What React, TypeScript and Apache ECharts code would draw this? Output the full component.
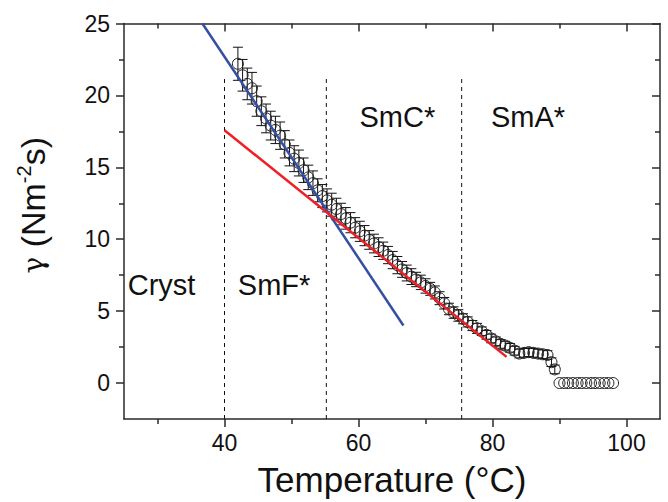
import React, { useEffect, useRef } from "react";
import * as echarts from "echarts";

// Measured data: temperature (°C), rotational viscosity γ (N m^-2 s) and its error
const temps = [
  42.0, 42.7, 43.4, 44.1, 44.8, 45.5, 46.2, 46.9, 47.6, 48.3, 49.0, 49.7,
  50.4, 51.1, 51.8, 52.5, 53.2, 53.9, 54.6, 55.3, 56.0, 56.7, 57.4, 58.1,
  58.8, 59.5, 60.2, 60.9, 61.6, 62.3, 63.0, 63.7, 64.4, 65.1, 65.8, 66.5,
  67.2, 67.9, 68.6, 69.3, 70.0, 70.7, 71.4, 72.1, 72.8, 73.5, 74.2, 74.9,
  75.6, 76.3, 77.0, 77.7, 78.4, 79.1, 79.8, 80.5, 81.2, 81.9, 82.6, 83.3,
  84.0, 84.7, 85.4, 86.1, 86.8, 87.5, 88.2, 88.8, 89.3,
];
const gamma = [
  22.2, 21.4, 20.8, 20.5, 19.6, 18.9, 18.4, 17.9, 17.6, 17.2, 16.6, 16.0,
  15.6, 15.3, 14.8, 14.3, 13.9, 13.4, 13.0, 12.7, 12.4, 12.1, 11.75, 11.45,
  11.15, 10.8, 10.55, 10.25, 9.95, 9.7, 9.45, 9.2, 8.9, 8.55, 8.2, 7.9,
  7.65, 7.4, 7.2, 7.0, 6.75, 6.55, 6.3, 5.9, 5.55, 5.15, 4.9, 4.7,
  4.47, 4.25, 4.0, 3.8, 3.6, 3.35, 3.1, 2.9, 2.72, 2.6, 2.45, 2.25,
  2.05, 2.1, 2.15, 2.1, 2.05, 2.0, 1.95, 1.45, 0.95,
];
const gammaErr = [
  1.15, 1.1, 1.1, 1.1,
  1.05, 1.0, 1.0, 1.0, 0.95, 0.95, 0.95, 0.9,
  0.9, 0.9, 0.85, 0.85, 0.85, 0.8, 0.8, 0.8,
  0.8, 0.75, 0.75, 0.75, 0.7, 0.7, 0.7, 0.7, 0.65, 0.65,
  0.65, 0.6, 0.6, 0.6, 0.6, 0.55, 0.55, 0.55, 0.5, 0.5, 0.5,
  0.45, 0.45, 0.45, 0.4, 0.4, 0.4, 0.4, 0.35, 0.35, 0.35,
  0.35, 0.3, 0.3, 0.3, 0.3, 0.3, 0.3, 0.3, 0.3, 0.3,
  0.3, 0.3, 0.3, 0.3, 0.3, 0.3, 0.3, 0.3,
];
const isoTemps = [90.0, 90.7, 91.3, 92.0, 92.7, 93.3, 94.0, 94.7, 95.3, 96.0, 96.7, 97.3, 98.0];
const isoGamma = [0, 0, 0, 0, 0, 0, 0, 0, 0, 0, 0, 0, 0];

// Linear fits (endpoints)
const blueFitX = [36.7, 66.7];
const blueFitY = [25.0, 4.0];
const redFitX = [40.0, 82.1];
const redFitY = [17.58, 1.82];

// Phase boundaries
const boundaries = [40.0, 55.2, 75.4];
const boundaryTop = 21.2;

// Phase labels
const phaseNames = ["Cryst", "SmF*", "SmC*", "SmA*"];
const phaseX = [30.6, 47.4, 65.8, 85.3];
const phaseY = [6.8, 6.8, 18.5, 18.5];

// Axis ticks
const xMajor = [40, 60, 80, 100];
const xMinor = [30, 50, 70, 90];
const yMajor = [0, 5, 10, 15, 20, 25];
const yMinor = [2.5, 7.5, 12.5, 17.5, 22.5];
const X_MIN = 25, X_MAX = 105, Y_MIN = -2.5, Y_MAX = 25;

const FONT = "'Liberation Sans', Arial, Helvetica, sans-serif";
const AX = "#2a2a2a";
const TXT = "#111";

export default function App() {
  const ref = useRef<HTMLDivElement>(null);
  useEffect(() => {
    if (!ref.current) return;
    const chart = echarts.init(ref.current, null, { renderer: "svg" });

    const baseX = (extra: any) => ({
      type: "value",
      min: X_MIN,
      max: X_MAX,
      splitLine: { show: false },
      ...extra,
    });
    const baseY = (extra: any) => ({
      type: "value",
      min: Y_MIN,
      max: Y_MAX,
      splitLine: { show: false },
      ...extra,
    });
    const lineSt = { color: AX, width: 1.5 };

    const xAxis = [
      baseX({
        position: "bottom",
        axisLine: { show: true, onZero: false, lineStyle: lineSt },
        axisTick: { show: true, inside: false, length: 8, customValues: xMajor, lineStyle: lineSt },
        axisLabel: { show: true, customValues: xMajor, margin: 12, fontSize: 23, color: TXT, fontFamily: FONT },
        name: "Temperature (°C)",
        nameLocation: "middle",
        nameGap: 43,
        nameTextStyle: { fontSize: 35, color: TXT, fontFamily: FONT },
      }),
      baseX({
        position: "bottom",
        axisLine: { show: false, onZero: false },
        axisTick: { show: true, inside: false, length: 5, customValues: xMinor, lineStyle: lineSt },
        axisLabel: { show: false },
      }),
      baseX({
        position: "top",
        axisLine: { show: true, onZero: false, lineStyle: lineSt },
        axisTick: { show: true, inside: true, length: 8, customValues: xMajor, lineStyle: lineSt },
        axisLabel: { show: false },
      }),
      baseX({
        position: "top",
        axisLine: { show: false, onZero: false },
        axisTick: { show: true, inside: true, length: 5, customValues: xMinor, lineStyle: lineSt },
        axisLabel: { show: false },
      }),
    ];
    const yAxis = [
      baseY({
        position: "left",
        axisLine: { show: true, onZero: false, lineStyle: lineSt },
        axisTick: { show: true, inside: false, length: 8, customValues: yMajor, lineStyle: lineSt },
        axisLabel: { show: true, customValues: yMajor, margin: 14, fontSize: 23, color: TXT, fontFamily: FONT },
        name: "{g|γ} (Nm{sup|-2}s)",
        nameLocation: "middle",
        nameRotate: 90,
        nameGap: 72,
        nameTextStyle: {
          fontSize: 34,
          color: TXT,
          fontFamily: FONT,
          padding: [0, 0, 0, 32],
          rich: {
            g: { fontSize: 28, fontFamily: "'DejaVu Serif', serif", color: TXT },
            sup: { fontSize: 20, fontFamily: FONT, color: TXT, verticalAlign: "top", lineHeight: 38 },
          },
        },
      }),
      baseY({
        position: "left",
        axisLine: { show: false, onZero: false },
        axisTick: { show: true, inside: false, length: 5, customValues: yMinor, lineStyle: lineSt },
        axisLabel: { show: false },
      }),
      baseY({
        position: "right",
        axisLine: { show: true, onZero: false, lineStyle: lineSt },
        axisTick: { show: true, inside: true, length: 8, customValues: yMajor, lineStyle: lineSt },
        axisLabel: { show: false },
      }),
      baseY({
        position: "right",
        axisLine: { show: false, onZero: false },
        axisTick: { show: true, inside: true, length: 5, customValues: yMinor, lineStyle: lineSt },
        axisLabel: { show: false },
      }),
    ];

    const errData = temps.map((t, i) => [t, gamma[i] - gammaErr[i], gamma[i] + gammaErr[i]]);
    const pts = temps.map((t, i) => [t, gamma[i]]);
    const isoPts = isoTemps.map((t, i) => [t, isoGamma[i]]);

    const boundarySeries = boundaries.map((b) => ({
      type: "line",
      xAxisIndex: 0,
      yAxisIndex: 0,
      data: [[b, Y_MIN], [b, boundaryTop]],
      symbol: "none",
      silent: true,
      z: 1,
      lineStyle: { color: "#111", width: 1, type: [4, 4] },
    }));

    const circleStyle = { color: "rgba(255,255,255,0)", borderColor: "#222", borderWidth: 1, opacity: 1 };

    const option: any = {
      animation: false,
      grid: { left: 124, top: 23.5, right: 8, bottom: 81, containLabel: false },
      xAxis,
      yAxis,
      series: [
        ...boundarySeries,
        {
          type: "custom",
          xAxisIndex: 0,
          yAxisIndex: 0,
          data: errData,
          encode: { x: 0, y: [1, 2] },
          z: 2,
          renderItem: (params: any, api: any) => {
            const x = api.value(0);
            const lo = api.coord([x, api.value(1)]);
            const hi = api.coord([x, api.value(2)]);
            const w = 5;
            const st = { stroke: "#111", lineWidth: 1 };
            return {
              type: "group",
              children: [
                { type: "line", shape: { x1: lo[0], y1: lo[1], x2: hi[0], y2: hi[1] }, style: st },
                { type: "line", shape: { x1: hi[0] - w, y1: hi[1], x2: hi[0] + w, y2: hi[1] }, style: st },
                { type: "line", shape: { x1: lo[0] - w, y1: lo[1], x2: lo[0] + w, y2: lo[1] }, style: st },
              ],
            };
          },
        },
        {
          type: "scatter",
          xAxisIndex: 0,
          yAxisIndex: 0,
          data: pts,
          symbol: "circle",
          symbolSize: 11,
          z: 3,
          itemStyle: circleStyle,
        },
        {
          type: "scatter",
          xAxisIndex: 0,
          yAxisIndex: 0,
          data: isoPts,
          symbol: "circle",
          symbolSize: 11,
          z: 3,
          itemStyle: circleStyle,
        },
        {
          type: "line",
          xAxisIndex: 0,
          yAxisIndex: 0,
          data: blueFitX.map((x, i) => [x, blueFitY[i]]),
          symbol: "none",
          z: 4,
          lineStyle: { color: "#3350a2", width: 2.5 },
        },
        {
          type: "line",
          xAxisIndex: 0,
          yAxisIndex: 0,
          data: redFitX.map((x, i) => [x, redFitY[i]]),
          symbol: "none",
          z: 4,
          lineStyle: { color: "#ee1f26", width: 2.5 },
        },
        {
          type: "scatter",
          xAxisIndex: 0,
          yAxisIndex: 0,
          data: phaseX.map((x, i) => ({ value: [x, phaseY[i]], name: phaseNames[i] })),
          symbolSize: 1,
          itemStyle: { color: "rgba(0,0,0,0)", opacity: 1 },
          silent: true,
          z: 5,
          label: {
            show: true,
            position: "inside",
            formatter: (p: any) => p.name,
            fontSize: 29,
            color: TXT,
            opacity: 1,
            textBorderWidth: 0,
            fontFamily: FONT,
          },
        },
      ],
    };
    chart.setOption(option);
    return () => chart.dispose();
  }, []);

  return (
    <div
      ref={ref}
      style={{ position: "fixed", left: 0, top: 0, width: 668, height: 502, background: "#fff" }}
    />
  );
}
